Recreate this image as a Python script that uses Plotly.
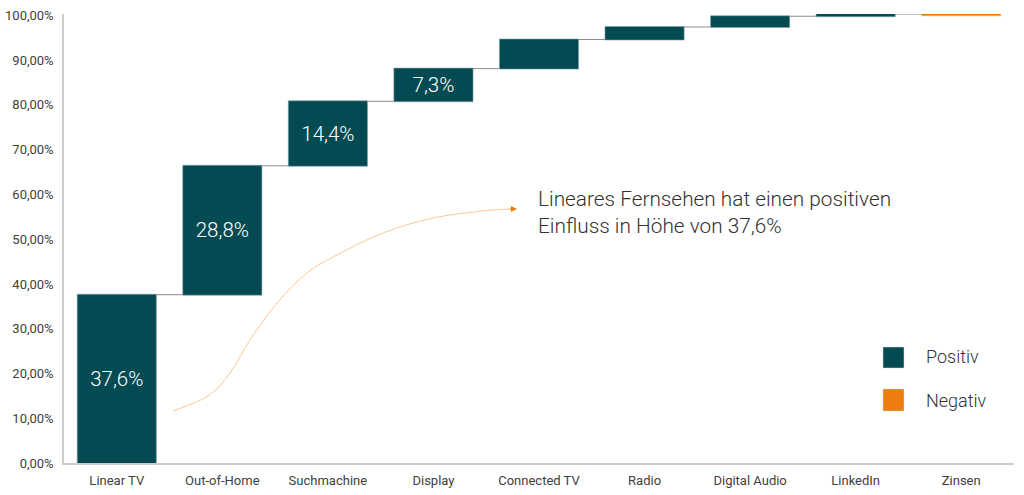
import plotly.graph_objects as go

# Waterfall data (share of effect in %)
categories = ["Linear TV", "Out-of-Home", "Suchmachine", "Display", "Connected TV",
              "Radio", "Digital Audio", "LinkedIn", "Zinsen"]
values = [37.6, 28.8, 14.4, 7.3, 6.5, 2.8, 2.4, 0.5, -0.3]
labelled = [True, True, True, True, False, False, False, False, False]
y_ticks = [0, 10, 20, 30, 40, 50, 60, 70, 80, 90, 100]

teal = "#034a52"
orange = "#ec7d0c"

texts = [(f"{v:.1f}".replace(".", ",") + "%") if show else "" for v, show in zip(values, labelled)]
tick_text = [f"{t:.2f}".replace(".", ",") + "%" for t in y_ticks]

fig = go.Figure(go.Waterfall(
    x=categories,
    y=values,
    measure=["relative"] * len(values),
    text=texts,
    textposition="inside",
    insidetextanchor="middle",
    textfont=dict(color="white", size=20.5, family="Roboto", weight=300),
    increasing=dict(marker=dict(color=teal, line=dict(color="#7fa3a6", width=0.6))),
    decreasing=dict(marker=dict(color=orange, line=dict(color="#f5b06a", width=0.6))),
    connector=dict(line=dict(color="#8c8c8c", width=1)),
    width=0.75,
    hoverinfo="x+y",
))

W, H = 1024, 495
# plot area in page pixels
L, R, T, B = 64, 1014, 14, 463


def px(x, y):
    return (x - L) / (R - L), (B - y) / (B - T)


# hand-drawn style curve pointing at the note
pts = [(173, 411), (208, 396), (230, 373), (250, 340), (277, 303), (307, 273),
       (337, 255), (383, 233), (433, 218), (483, 211), (512, 209)]
p = [px(*q) for q in pts]
path = f"M {p[0][0]},{p[0][1]}"
for i in range(len(p) - 1):
    p0 = p[i - 1] if i > 0 else p[i]
    p1, p2 = p[i], p[i + 1]
    p3 = p[i + 2] if i + 2 < len(p) else p[i + 1]
    c1 = (p1[0] + (p2[0] - p0[0]) / 6, p1[1] + (p2[1] - p0[1]) / 6)
    c2 = (p2[0] - (p3[0] - p1[0]) / 6, p2[1] - (p3[1] - p1[1]) / 6)
    path += f" C {c1[0]},{c1[1]} {c2[0]},{c2[1]} {p2[0]},{p2[1]}"

shapes = [dict(type="path", path=path, xref="paper", yref="paper",
               line=dict(color="#f8c996", width=1))]

# custom legend
for (x0, y0, x1, y1), col in [((883, 347, 904, 368), teal), ((883, 389, 904, 411), orange)]:
    a = px(x0, y1)
    b = px(x1, y0)
    shapes.append(dict(type="rect", xref="paper", yref="paper", x0=a[0], y0=a[1], x1=b[0], y1=b[1],
                       fillcolor=col, line=dict(color="#d9d9d9", width=0.5)))

ex, ey = px(517, 209)
tx, ty = px(536, 185)
lp = px(924, 356)
ln = px(924, 400)

annotations = [
    dict(x=ex, y=ey, xref="paper", yref="paper", text="", showarrow=True,
         ax=-9, ay=0, arrowhead=2, arrowsize=1, arrowwidth=1.2, arrowcolor=orange),
    dict(x=tx, y=ty, xref="paper", yref="paper", xanchor="left", yanchor="top", align="left",
         text="Lineares Fernsehen hat einen positiven<br>Einfluss in Höhe von 37,6%",
         showarrow=False, font=dict(family="Roboto", size=20.8, color="#333333", weight=300)),
    dict(x=lp[0], y=lp[1], xref="paper", yref="paper", xanchor="left", yanchor="middle",
         text="Positiv", showarrow=False, font=dict(family="Roboto", size=18, color="#333333", weight=300)),
    dict(x=ln[0], y=ln[1], xref="paper", yref="paper", xanchor="left", yanchor="middle",
         text="Negativ", showarrow=False, font=dict(family="Roboto", size=18, color="#333333", weight=300)),
]

fig.update_layout(
    width=W, height=H,
    margin=dict(l=L, r=W - R, t=T, b=H - B, autoexpand=False),
    paper_bgcolor="white", plot_bgcolor="white",
    showlegend=False,
    uniformtext=dict(minsize=19, mode="show"),
    font=dict(family="Roboto", color="#404040"),
    shapes=shapes,
    annotations=annotations,
    xaxis=dict(showgrid=False, showline=True, linecolor="#cccccc", linewidth=1.5,
               automargin=False, ticks="", ticklabelstandoff=5,
               tickfont=dict(size=13, color="#404040")),
    yaxis=dict(range=[0, 100.3], tickvals=y_ticks, ticktext=tick_text, automargin=False,
               showgrid=False, zeroline=False, showline=True, linecolor="#cccccc", linewidth=1.5,
               ticks="", ticklabelstandoff=6, ticklabeloverflow="allow",
               tickfont=dict(size=13, color="#404040")),
)

# drop the default body margin so the figure fills the window exactly
fig.write_html("out.html", config={"displayModeBar": False},
               post_script="document.body.style.margin = '0';")
